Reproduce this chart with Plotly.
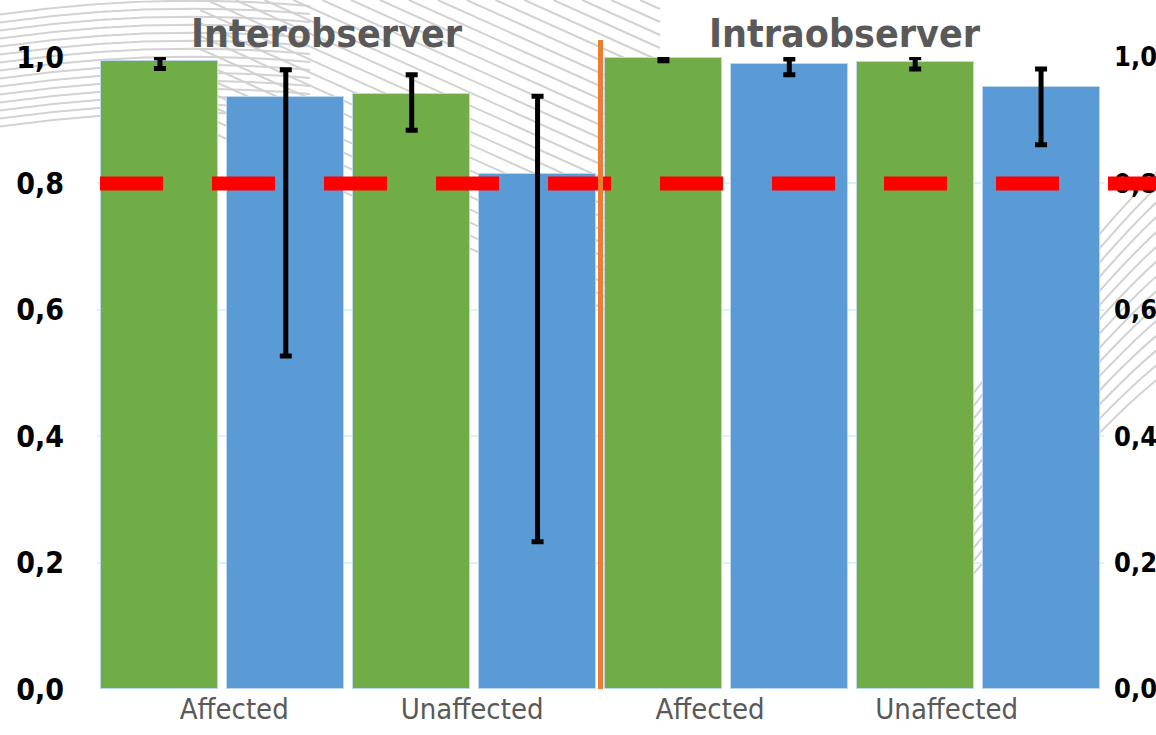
import plotly.graph_objects as go

# ---- data ----
groups = ["Interobserver", "Intraobserver"]
tick_labels = ["Affected", "Unaffected", "Affected", "Unaffected"]
bar_values = [0.993, 0.936, 0.941, 0.815, 0.998, 0.989, 0.992, 0.952]
err_upper = [0.999, 0.980, 0.972, 0.938, 1.000, 0.997, 0.999, 0.981]
err_lower = [0.982, 0.527, 0.884, 0.233, 0.994, 0.972, 0.981, 0.861]
threshold = 0.8
y_ticks = [0.0, 0.2, 0.4, 0.6, 0.8, 1.0]

green = "#70AD47"
blue = "#5B9BD5"
colors = [green, blue] * 4
xpos = list(range(len(bar_values)))
plus = [u - v for u, v in zip(err_upper, bar_values)]
minus = [v - l for v, l in zip(bar_values, err_lower)]

FONT_N = "Liberation Sans Narrow, DejaVu Sans Condensed, Roboto Condensed, Liberation Sans"

W0, W1 = 97, 1104       # plot area left/right (px)
T0, B0 = 57, 689        # plot area top/bottom (px)
pw, ph = W1 - W0, B0 - T0


def px(x):
    return (x - W0) / pw


def py(y):
    return (B0 - y) / ph


fig = go.Figure()

# ---- decorative background (grey line pattern) ----
deco = dict(color="#D2D2D2", width=2)
# top-left ripple arcs
for k in range(15):
    y = 4 + k * 8
    path = (f"M {px(-10)},{py(y + 12)} Q {px(150)},{py(y - 12)} {px(310)},{py(y + 2)}")
    fig.add_shape(type="path", xref="paper", yref="paper", path=path, line=deco, layer="below")
# diagonal hatch across the top middle
for k in range(30):
    y0 = -250 + k * 13
    xa, xb = 200, 660
    ya, yb = y0, y0 + 0.45 * (xb - xa)
    if ya < 0:
        xa = xa + (0 - ya) / 0.45
        ya = 0
    if yb > 360:
        xb = xb - (yb - 360) / 0.45
        yb = 360
    if xb <= xa:
        continue
    fig.add_shape(type="line", xref="paper", yref="paper", x0=px(xa), y0=py(ya),
                  x1=px(xb), y1=py(yb), line=deco, layer="below")
# right-side sweeping curves
for k in range(15):
    path = (f"M {px(880)},{py(520 + k * 12)} Q {px(1090)},{py(230 + k * 14)} "
            f"{px(1170)},{py(160 + k * 15)}")
    fig.add_shape(type="path", xref="paper", yref="paper", path=path, line=deco, layer="below")

# ---- data marks ----
fig.add_trace(go.Bar(
    x=xpos, y=bar_values, width=0.93,
    marker=dict(color=colors, line=dict(color="#BDD7EE", width=1)),
    error_y=dict(type="data", symmetric=False, array=plus, arrayminus=minus,
                 color="black", thickness=5, width=6),
    showlegend=False, hoverinfo="y",
))
fig.add_trace(go.Scatter(x=[0], y=[0], yaxis="y2", mode="markers",
                         marker=dict(opacity=0), showlegend=False, hoverinfo="skip"))

fig.add_shape(type="line", xref="paper", yref="y",
              x0=px(100), x1=px(1160), y0=threshold, y1=threshold,
              line=dict(color="#FF0000", width=14, dash="63px,49px"), layer="above")
fig.add_shape(type="line", xref="x", yref="paper", x0=3.5, x1=3.5, y0=0, y1=py(40),
              line=dict(color="#ED7D31", width=5), layer="above")

for gx, g in zip([1.33, 5.44], groups):
    fig.add_annotation(x=gx, y=py(33), xref="x", yref="paper", text="<b>" + g + "</b>",
                       showarrow=False, font=dict(family=FONT_N, size=39, color="#595959"),
                       yanchor="middle")

yax = dict(range=[0, 1.0], tickvals=y_ticks, tickformat=".1f", automargin=False,
           showgrid=True, gridcolor="#DAF1F7", gridwidth=2, zeroline=False,
           tickfont=dict(family=FONT_N, size=30, color="black", weight="bold"),
           showline=False, ticks="")
yax2 = {**yax, "showgrid": False,
        "tickfont": dict(family=FONT_N, size=27, color="black", weight="bold")}
fig.update_layout(
    width=1156, height=735,
    margin=dict(l=W0, r=1156 - W1, t=T0, b=735 - B0, autoexpand=False),
    separators=",.",
    plot_bgcolor="rgba(0,0,0,0)", paper_bgcolor="white",
    bargap=0,
    xaxis=dict(range=[-0.5, 7.5], tickvals=[0.59, 2.48, 4.37, 6.25], ticktext=tick_labels,
               showgrid=False, zeroline=False, showline=False, ticks="", automargin=False,
               tickfont=dict(family=FONT_N, size=29, color="#595959")),
    yaxis=dict(**yax, ticklabelstandoff=32),
    yaxis2=dict(**yax2, overlaying="y", side="right", ticklabelstandoff=9),
)
fig.write_html("out.html", post_script="document.body.style.margin='0';",
               config={"displayModeBar": False})
